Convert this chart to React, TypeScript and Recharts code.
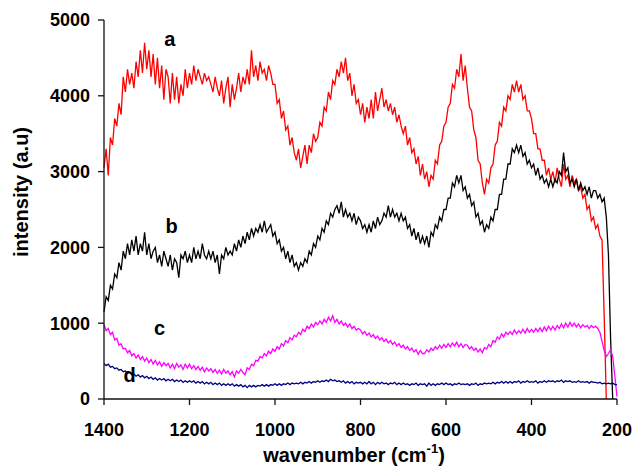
import { LineChart, Line, XAxis, YAxis, ReferenceDot } from 'recharts'

document.body.style.margin = '0'

// wavenumber grid, 1400 -> 200 cm-1, 5 cm-1 step
const WAVENUMBERS = Array.from({ length: 241 }, (_, i) => 1400 - i * 5)

const X_TICKS = [1400, 1200, 1000, 800, 600, 400, 200]
const Y_TICKS = [0, 1000, 2000, 3000, 4000, 5000]

// spectrum a (red)
const SPEC_A = [
  3050, 3300, 2950, 3450, 3350, 3700, 3600, 3900, 3750, 4250,
  4050, 4350, 4150, 4300, 4100, 4450, 4250, 4600, 4300, 4700,
  4350, 4600, 4250, 4550, 4150, 4500, 4100, 4400, 3950, 4350,
  4250, 3900, 4300, 3950, 4250, 3900, 4150, 4000, 4350, 4100,
  4300, 4150, 4400, 4200, 4350, 4250, 4150, 4300, 4200, 4250,
  4150, 4050, 4250, 4100, 4000, 4200, 3900, 4100, 4250, 3850,
  4150, 3950, 4100, 4300, 4050, 4250, 4150, 4350, 4150, 4600,
  4250, 4400, 4200, 4450, 4300, 4350, 4200, 4400, 4300, 4150,
  4150, 3900, 3950, 3700, 3800, 3550, 3600, 3350, 3450, 3250,
  3150, 3300, 3050, 3200, 3350, 3100, 3350, 3250, 3500, 3400,
  3450, 3650, 3600, 3850, 3800, 4050, 3950, 4200, 4150, 4350,
  4250, 4450, 4300, 4500, 4200, 4300, 4000, 4150, 3900, 3950,
  3750, 3900, 3650, 3850, 3700, 3950, 3700, 4050, 3800, 3950,
  4100, 3850, 3950, 3800, 3900, 3750, 3850, 3650, 3750, 3600,
  3500, 3600, 3350, 3450, 3250, 3300, 3100, 3200, 2950, 3100,
  2900, 3000, 2800, 2950, 2900, 3150, 3100, 3350, 3400, 3600,
  3650, 3850, 3900, 4150, 4100, 4350, 4250, 4550, 4200, 4400,
  4100, 3850, 3800, 3550, 3450, 3150, 3100, 2850, 2700, 2900,
  2850, 3050, 3100, 3350, 3400, 3650, 3600, 3850, 3800, 4000,
  3950, 4150, 4050, 4200, 4050, 4150, 3950, 4000, 3800, 3800,
  3700, 3500, 3500, 3300, 3300, 3150, 3150, 2950, 3050, 2900,
  3000, 2850, 3050, 2900, 2800, 3100, 2900, 2950, 2800, 2950,
  2850, 2900, 2750, 2800, 2650, 2700, 2500, 2550, 2350, 2400,
  2250, 2300, 2150, 2100, 1100, 0, null, null, null, null,
  null,
]

// spectrum b (black)
const SPEC_B = [
  1150, 1350, 1300, 1500, 1450, 1650, 1600, 1800, 1700, 1950,
  1850, 2050, 1900, 2100, 1950, 2150, 1900, 2050, 1950, 2200,
  1900, 2050, 1850, 1950, 2000, 1800, 1900, 1750, 1950, 1850,
  1750, 1900, 1700, 1850, 1800, 1600, 1900, 1850, 1950, 1800,
  1900, 1800, 2000, 1850, 1950, 1850, 2050, 1900, 1850, 1950,
  1850, 1950, 1800, 1900, 1650, 1900, 1850, 2000, 1900, 1950,
  1900, 2050, 1950, 2100, 2000, 2150, 2050, 2200, 2100, 2250,
  2150, 2250, 2200, 2300, 2200, 2350, 2200, 2250, 2300, 2150,
  2200, 2050, 2100, 1950, 2000, 1850, 1950, 1800, 1900, 1750,
  1800, 1700, 1800, 1750, 1850, 1800, 1950, 1900, 2050, 2000,
  2150, 2100, 2250, 2200, 2350, 2300, 2450, 2400, 2500, 2550,
  2450, 2600, 2400, 2500, 2400, 2450, 2350, 2450, 2300, 2400,
  2350, 2250, 2300, 2200, 2300, 2200, 2350, 2250, 2400, 2300,
  2350, 2450, 2400, 2550, 2400, 2500, 2400, 2450, 2350, 2450,
  2350, 2400, 2250, 2300, 2150, 2250, 2100, 2200, 2050, 2150,
  2050, 2150, 2000, 2200, 2150, 2300, 2250, 2400, 2350, 2500,
  2500, 2650, 2650, 2850, 2800, 2950, 2850, 2950, 2750, 2800,
  2650, 2700, 2550, 2600, 2400, 2450, 2300, 2350, 2200, 2300,
  2250, 2400, 2350, 2500, 2500, 2700, 2700, 2900, 2900, 3100,
  3100, 3300, 3250, 3350, 3250, 3350, 3200, 3250, 3100, 3150,
  3050, 3100, 2950, 3050, 2900, 2950, 2850, 2900, 2800, 2900,
  2800, 2900, 2850, 3000, 2950, 3250, 3000, 3050, 2850, 2900,
  2800, 2900, 2750, 2850, 2750, 2800, 2700, 2800, 2650, 2750,
  2750, 2650, 2700, 2600, 2650, 2400, 1900, 800, 0, null,
  null,
]

// spectrum c (magenta)
const SPEC_C = [
  980, 900, 930, 850, 880, 780, 800, 710, 730, 660,
  670, 610, 640, 570, 600, 540, 580, 520, 560, 500,
  540, 480, 520, 460, 510, 450, 490, 430, 480, 440,
  470, 410, 460, 400, 470, 420, 450, 390, 460, 410,
  460, 400, 440, 390, 430, 380, 420, 360, 410, 370,
  400, 350, 390, 340, 380, 330, 390, 340, 370, 320,
  360, 290, 370, 340, 390, 350, 320, 410, 390, 460,
  440, 510, 500, 560, 540, 600, 570, 630, 600, 660,
  630, 690, 660, 730, 700, 770, 740, 810, 780, 840,
  820, 880, 850, 920, 890, 960, 930, 990, 950, 1010,
  980, 1030, 990, 1050, 1010, 1080, 1030, 1100, 1010, 1050,
  990, 1030, 970, 1000, 950, 990, 930, 960, 910, 930,
  910, 860, 890, 840, 870, 820, 850, 800, 830, 780,
  810, 760, 790, 740, 770, 720, 750, 700, 730, 680,
  710, 660, 690, 640, 670, 620, 650, 590, 640, 600,
  600, 650, 620, 670, 640, 690, 660, 710, 670, 720,
  680, 730, 690, 740, 700, 750, 690, 730, 680, 720,
  710, 660, 690, 640, 670, 620, 660, 610, 680, 660,
  720, 690, 770, 750, 820, 790, 860, 820, 880, 850,
  890, 850, 910, 860, 900, 870, 920, 870, 930, 880,
  920, 880, 930, 890, 940, 890, 950, 900, 960, 910,
  960, 910, 970, 930, 990, 940, 1000, 950, 1010, 960,
  1000, 950, 990, 940, 980, 950, 970, 930, 970, 940,
  960, 930, 880, 760, 640, 560, 600, 650, 560, 300,
  30,
]

// spectrum d (navy)
const SPEC_D = [
  470, 440, 460, 420, 430, 400, 410, 380, 390, 360,
  370, 340, 350, 320, 330, 300, 320, 290, 310, 280,
  300, 270, 290, 260, 280, 250, 270, 250, 270, 240,
  260, 240, 260, 230, 250, 230, 250, 220, 240, 220,
  240, 220, 240, 210, 230, 210, 230, 200, 220, 200,
  220, 190, 210, 190, 210, 180, 200, 180, 200, 180,
  200, 170, 190, 170, 190, 160, 180, 150, 180, 160,
  180, 160, 180, 170, 190, 170, 190, 170, 190, 180,
  200, 180, 200, 180, 200, 190, 210, 190, 210, 200,
  210, 200, 220, 200, 220, 210, 230, 210, 230, 220,
  240, 220, 240, 230, 250, 230, 260, 240, 250, 230,
  240, 220, 240, 210, 230, 210, 230, 200, 220, 210,
  220, 200, 220, 200, 230, 200, 220, 190, 220, 200,
  220, 200, 210, 190, 210, 200, 220, 190, 210, 190,
  210, 190, 200, 180, 200, 190, 210, 180, 200, 190,
  200, 170, 210, 180, 200, 180, 200, 190, 210, 190,
  210, 190, 200, 180, 200, 190, 210, 190, 200, 190,
  200, 180, 200, 190, 210, 180, 200, 190, 210, 200,
  210, 200, 220, 200, 220, 210, 230, 210, 230, 210,
  230, 210, 230, 220, 240, 210, 230, 220, 240, 220,
  230, 220, 240, 210, 230, 220, 240, 220, 240, 230,
  240, 220, 240, 230, 250, 220, 240, 230, 240, 220,
  230, 220, 240, 220, 230, 220, 230, 210, 230, 220,
  220, 210, 220, 200, 210, 200, 210, 200, 210, 190,
  190,
]

// curve letters: [label, wavenumber, intensity]
const CURVE_LABELS: [string, number, number][] = [
  ['a', 1246, 4750],
  ['b', 1242, 2290],
  ['c', 1270, 935],
  ['d', 1340, 315],
]

const FONT = '"Liberation Sans", Arial, Helvetica, sans-serif'

const data = WAVENUMBERS.map((wn, i) => ({
  wn,
  a: SPEC_A[i],
  b: SPEC_B[i],
  c: SPEC_C[i],
  d: SPEC_D[i],
}))

const tickStyle = { fontSize: 18, fontWeight: 700, fill: '#000', fontFamily: FONT }

function XTitle() {
  return (
    <text x={354} y={462} textAnchor="middle" fontFamily={FONT} fontSize={20} fontWeight={700} fill="#000">
      wavenumber (cm<tspan dy={-9} fontSize={13}>-1</tspan><tspan dy={9}>)</tspan>
    </text>
  )
}

function YTitle() {
  return (
    <text
      x={28}
      y={192}
      transform="rotate(-90, 28, 192)"
      textAnchor="middle"
      fontFamily={FONT}
      fontSize={20}
      fontWeight={700}
      fill="#000"
    >
      intensity (a.u)
    </text>
  )
}

export default function App() {
  return (
    <div style={{ width: 634, height: 469, background: '#fff' }}>
      <LineChart width={634} height={469} data={data} margin={{ top: 20, right: 17, bottom: 20, left: 0 }}>
        <XAxis
          dataKey="wn"
          type="number"
          domain={[200, 1400]}
          ticks={X_TICKS}
          reversed
          height={50}
          stroke="#111"
          strokeWidth={1.3}
          tickSize={6}
          tickMargin={18}
          tick={tickStyle}
          label={<XTitle />}
        />
        <YAxis
          domain={[0, 5000]}
          ticks={Y_TICKS}
          width={104}
          stroke="#111"
          strokeWidth={1.3}
          tickSize={6}
          tickMargin={8}
          tick={tickStyle}
          label={<YTitle />}
        />
        <Line dataKey="a" stroke="#ff0000" strokeWidth={1.3} dot={false} isAnimationActive={false} />
        <Line dataKey="b" stroke="#000000" strokeWidth={1.3} dot={false} isAnimationActive={false} />
        <Line dataKey="c" stroke="#ff00ff" strokeWidth={1.3} dot={false} isAnimationActive={false} />
        <Line dataKey="d" stroke="#000080" strokeWidth={1.3} dot={false} isAnimationActive={false} />
        {CURVE_LABELS.map(([name, wn, val]) => (
          <ReferenceDot
            key={name}
            x={wn}
            y={val}
            r={0}
            fill="none"
            stroke="none"
            label={{ value: name, position: 'center', fontSize: 20, fontWeight: 700, fill: '#000', fontFamily: FONT }}
          />
        ))}
      </LineChart>
    </div>
  )
}
